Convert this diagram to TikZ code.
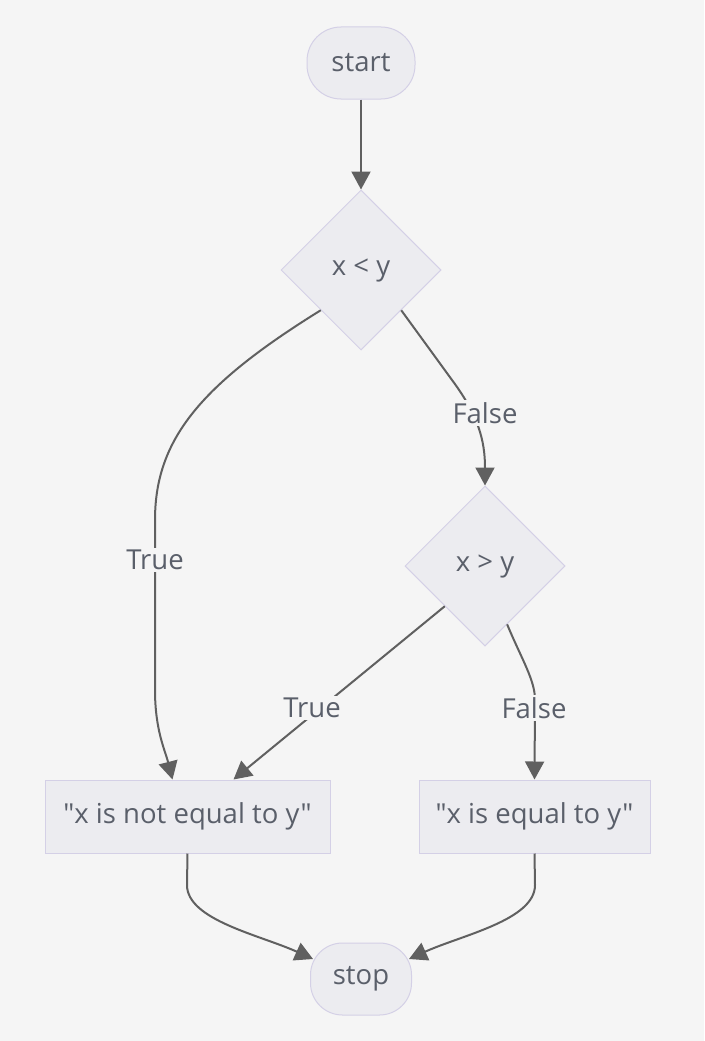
\documentclass[tikz,border=0pt]{standalone}
\usepackage{fontspec}
\setmainfont{Open Sans}[Ligatures=TeXOff]
\usetikzlibrary{shapes.geometric,arrows.meta,calc}
\definecolor{bg}{HTML}{F5F5F5}
\definecolor{nodefill}{HTML}{ECECF0}
\definecolor{nodeline}{HTML}{D4D0E6}
\definecolor{txt}{HTML}{5A5F6A}
\definecolor{edge}{HTML}{606060}
\begin{document}
\begin{tikzpicture}[x=1pt,y=-1pt,
  every node/.style={font=\fontsize{27.5}{31}\selectfont, text=txt},
  term/.style={draw=nodeline, fill=nodefill, line width=1pt, rounded corners=34pt, inner sep=0pt},
  decision/.style={draw=nodeline, fill=nodefill, line width=1pt, diamond, minimum width=160pt, minimum height=160pt, inner sep=0pt},
  proc/.style={draw=nodeline, fill=nodefill, line width=1pt, rectangle, inner sep=0pt},
  conn/.style={draw=edge, line width=2pt, -{Triangle[length=18pt,width=19pt]}},
  lbl/.style={fill=bg, inner sep=2pt}
]
\fill[bg] (0,0) rectangle (704,1041);
\useasboundingbox (0,0) rectangle (704,1041);

\node[term, minimum width=108pt, minimum height=72pt] (start) at (361,63) {start};
\node[decision] (d1) at (361,270) {x < y};
\node[decision] (d2) at (485,566) {x > y};
\node[proc, minimum width=285pt, minimum height=73pt] (box1) at (187.5,816.5) {"x is not equal to y"};
\node[proc, minimum width=231pt, minimum height=73pt] (box2) at (534.5,816.5) {"x is equal to y"};
\node[term, rounded corners=32pt, minimum width=101pt, minimum height=72pt] (stop) at (361,979) {stop};

\coordinate (b1in) at ($(box1.north)+(-15,0)$);
\coordinate (b1in2) at ($(box1.north)+(46,0)$);
\coordinate (d2out) at ($(d2.south east)!0.45!(d2.south)$);
\coordinate (stopL) at ($(stop.west)+(3,-20)$);
\coordinate (stopR) at ($(stop.east)+(-3,-20)$);

\draw[conn] (start) -- (d1.north);
\draw[conn] (d1.south west) .. controls (200,385) and (155,440) .. (155,520) -- (155,690) .. controls (155,730) and (165,750) .. (b1in);
\node[lbl] at (155,560) {True};
\draw[conn] (d1.south east) -- (452,380) .. controls (478,415) and (485,440) .. (d2.north);
\node[lbl] at (485,413) {False};
\draw[conn] (d2.south west) -- (b1in2);
\node[lbl] at (312,708) {True};
\draw[conn] (d2out) .. controls (522,660) and (535,680) .. (535,700) -- (box2.north);
\node[lbl] at (534,708) {False};
\draw[conn] (box1.south) -- (187,885) .. controls (187,920) and (260,935) .. (stopL);
\draw[conn] (box2.south) -- (535,885) .. controls (535,920) and (462,935) .. (stopR);
\end{tikzpicture}
\end{document}
